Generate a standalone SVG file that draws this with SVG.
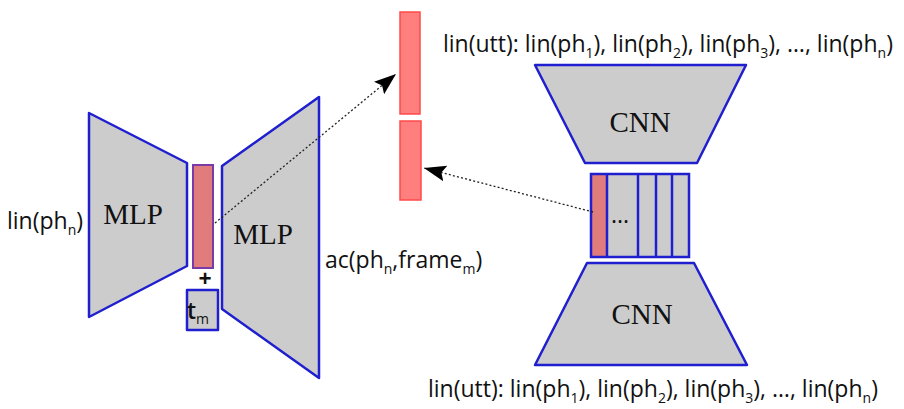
<svg xmlns="http://www.w3.org/2000/svg" width="904" height="409" viewBox="0 0 904 409">
<style>
.blk{fill:#cccccc;stroke:#1f1fd0;stroke-width:2.5;stroke-linejoin:round}
.emb{fill:#e07c7c;stroke:#7a3aa8;stroke-width:2}
.vec{fill:#ff7f7f;stroke:#ff4a4a;stroke-width:1.5}
.lbl{font-family:"Liberation Serif",serif;font-size:29px;fill:#111}
.txt{font-family:"Open Sans","DejaVu Sans",sans-serif;font-size:23px;fill:#111}
.sub{font-size:14px}
.dot{fill:none;stroke:#222;stroke-width:1.3;stroke-dasharray:2,2.2}
</style>
<defs>
<marker id="ah" markerUnits="userSpaceOnUse" markerWidth="24" markerHeight="18" refX="22" refY="8" orient="auto">
<path d="M0,0 L22,8 L0,16 L4,8 z" fill="#000"/>
</marker>
</defs>
<g id="mlp-enc">
<polygon class="blk" points="89,113 187,163 187,266 89,317"/>
<text class="lbl" x="133" y="224" text-anchor="middle">MLP</text>
</g>
<g id="emb-bar">
<rect class="emb" x="193" y="165" width="20" height="103"/>
</g>
<g id="plus">
<text class="txt" x="205" y="287" text-anchor="middle" font-size="17" font-weight="bold">+</text>
</g>
<g id="tm">
<rect class="blk" x="187" y="290" width="31" height="40"/>
<text class="txt" x="198" y="319" text-anchor="middle" font-size="26" font-weight="600">t<tspan class="sub" dy="5" font-size="15" font-weight="normal">m</tspan></text>
</g>
<g id="mlp-dec">
<polygon class="blk" points="222,166 319,97 319,378 222,309"/>
<text class="lbl" x="263" y="244" text-anchor="middle">MLP</text>
</g>
<g id="lin-phn">
<text class="txt" x="7" y="229">lin(ph<tspan class="sub" dy="6">n</tspan><tspan dy="-6">)</tspan></text>
</g>
<g id="ac">
<text class="txt" x="325" y="268">ac(ph<tspan class="sub" dy="6">n</tspan><tspan dy="-6">,frame</tspan><tspan class="sub" dy="6">m</tspan><tspan dy="-6">)</tspan></text>
</g>
<g id="vec-top">
<rect class="vec" x="400" y="12" width="20" height="102"/>
</g>
<g id="vec-bottom">
<rect class="vec" x="400" y="121" width="21" height="79"/>
</g>
<g id="cnn-top">
<polygon class="blk" points="535,65 746,65 697,163 585,163"/>
<text class="lbl" x="640" y="132" text-anchor="middle">CNN</text>
</g>
<g id="strip">
<rect x="591" y="174" width="98" height="83" fill="#cccccc"/>
<rect x="591" y="174" width="16" height="83" fill="#e07c7c"/>
<rect x="591" y="174" width="98" height="83" fill="none" stroke="#1f1fd0" stroke-width="2.5"/>
<line x1="607" y1="174" x2="607" y2="257" stroke="#1f1fd0" stroke-width="2.5"/>
<line x1="638" y1="174" x2="638" y2="257" stroke="#1f1fd0" stroke-width="2.5"/>
<line x1="656" y1="174" x2="656" y2="257" stroke="#1f1fd0" stroke-width="2.5"/>
<line x1="672" y1="174" x2="672" y2="257" stroke="#1f1fd0" stroke-width="2.5"/>
<text class="txt" x="611" y="223" font-size="20">...</text>
</g>
<g id="cnn-bottom">
<polygon class="blk" points="587,263 694,263 747,365 535,365"/>
<text class="lbl" x="642" y="324" text-anchor="middle">CNN</text>
</g>
<g id="utt-top">
<text class="txt" x="443" y="52">lin(utt): lin(ph<tspan class="sub" dy="6">1</tspan><tspan dy="-6">), lin(ph</tspan><tspan class="sub" dy="6">2</tspan><tspan dy="-6">), lin(ph</tspan><tspan class="sub" dy="6">3</tspan><tspan dy="-6">), …, lin(ph</tspan><tspan class="sub" dy="6">n</tspan><tspan dy="-6">)</tspan></text>
</g>
<g id="utt-bottom">
<text class="txt" x="428" y="397">lin(utt): lin(ph<tspan class="sub" dy="6">1</tspan><tspan dy="-6">), lin(ph</tspan><tspan class="sub" dy="6">2</tspan><tspan dy="-6">), lin(ph</tspan><tspan class="sub" dy="6">3</tspan><tspan dy="-6">), …, lin(ph</tspan><tspan class="sub" dy="6">n</tspan><tspan dy="-6">)</tspan></text>
</g>
<g id="connectors">
<line class="dot" x1="215" y1="223" x2="396" y2="74" marker-end="url(#ah)"/>
<line class="dot" x1="593" y1="212" x2="424" y2="168" marker-end="url(#ah)"/>
</g>
</svg>
